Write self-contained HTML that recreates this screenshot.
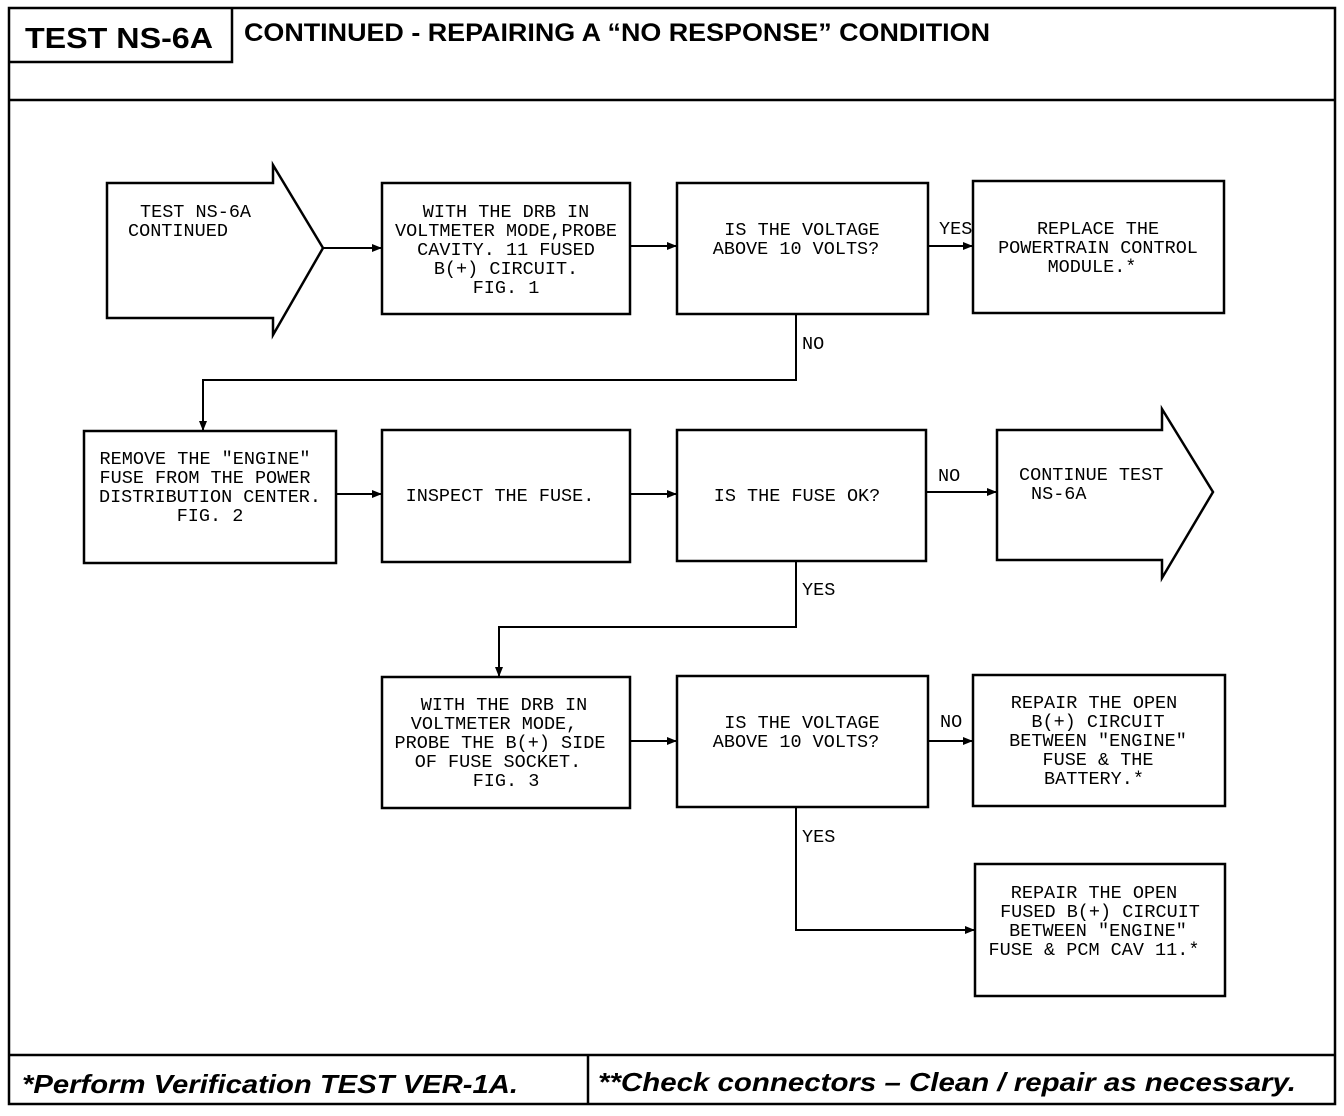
<!DOCTYPE html>
<html><head><meta charset="utf-8"><style>
html,body{margin:0;padding:0;background:#fff;}
svg{display:block;}
.t{font-family:"Liberation Mono",monospace;font-size:18.5px;fill:#000;}
.h{font-family:"Liberation Sans",sans-serif;font-weight:bold;fill:#000;}
</style></head><body>
<svg width="1344" height="1116" viewBox="0 0 1344 1116" xmlns="http://www.w3.org/2000/svg">
<defs><marker id="a" markerWidth="10" markerHeight="8" refX="9" refY="4" orient="auto" markerUnits="userSpaceOnUse"><path d="M0,0 L10,4 L0,8 z" fill="#000"/></marker></defs>
<g fill="none" stroke="#000" stroke-width="2.5">
<rect x="9" y="8" width="1326" height="1096"/>
<line x1="9" y1="100" x2="1335" y2="100"/>
<line x1="9" y1="1055" x2="1335" y2="1055"/>
<line x1="588" y1="1055" x2="588" y2="1104"/>
<polyline points="9,62 232,62 232,8"/>
<path d="M107,183 H273 V165 L323,248 L273,335 V318 H107 Z"/>
<rect x="382" y="183" width="248" height="131"/>
<rect x="677" y="183" width="251" height="131"/>
<rect x="973" y="181" width="251" height="132"/>
<rect x="84" y="431" width="252" height="132"/>
<rect x="382" y="430" width="248" height="132"/>
<rect x="677" y="430" width="249" height="131"/>
<path d="M997,430 H1162 V409 L1213,492 L1162,578 V560 H997 Z"/>
<rect x="382" y="677" width="248" height="131"/>
<rect x="677" y="676" width="251" height="131"/>
<rect x="973" y="675" width="252" height="131"/>
<rect x="975" y="864" width="250" height="132"/>
</g>
<g fill="none" stroke="#000" stroke-width="2">
<line x1="323" y1="248" x2="381" y2="248" marker-end="url(#a)"/>
<line x1="630" y1="246" x2="676" y2="246" marker-end="url(#a)"/>
<line x1="928" y1="246" x2="972" y2="246" marker-end="url(#a)"/>
<polyline points="796,314 796,380 203,380 203,430" marker-end="url(#a)"/>
<line x1="336" y1="494" x2="381" y2="494" marker-end="url(#a)"/>
<line x1="630" y1="494" x2="676" y2="494" marker-end="url(#a)"/>
<line x1="926" y1="492" x2="996" y2="492" marker-end="url(#a)"/>
<polyline points="796,561 796,627 499,627 499,676" marker-end="url(#a)"/>
<line x1="630" y1="741" x2="676" y2="741" marker-end="url(#a)"/>
<line x1="928" y1="741" x2="972" y2="741" marker-end="url(#a)"/>
<polyline points="796,807 796,930 974,930" marker-end="url(#a)"/>
</g>
<text class="h" x="25" y="48" font-size="29" textLength="188" lengthAdjust="spacingAndGlyphs">TEST NS-6A</text>
<text class="h" x="244" y="41" font-size="25" textLength="746" lengthAdjust="spacingAndGlyphs">CONTINUED -  REPAIRING A “NO RESPONSE” CONDITION</text>
<text class="h" x="22" y="1093" font-size="26" font-style="italic" textLength="496" lengthAdjust="spacingAndGlyphs">*Perform Verification TEST VER-1A.</text>
<text class="h" x="598" y="1091" font-size="26" font-style="italic" textLength="698" lengthAdjust="spacingAndGlyphs">**Check connectors – Clean / repair as necessary.</text>
<g class="t">
<text x="140" y="217">TEST NS-6A</text>
<text x="128" y="236">CONTINUED</text>
</g>
<g class="t" text-anchor="middle">
<text x="506" y="217">WITH THE DRB IN</text>
<text x="506" y="236">VOLTMETER MODE,PROBE</text>
<text x="506" y="255">CAVITY. 11 FUSED</text>
<text x="506" y="274">B(+) CIRCUIT.</text>
<text x="506" y="293">FIG. 1</text>
<text x="802" y="235">IS THE VOLTAGE</text>
<text x="796" y="254">ABOVE 10 VOLTS?</text>
<text x="1098" y="234">REPLACE THE</text>
<text x="1098" y="253">POWERTRAIN CONTROL</text>
<text x="1092" y="272">MODULE.*</text>
<text x="205" y="464">REMOVE THE "ENGINE"</text>
<text x="205" y="483">FUSE FROM THE POWER</text>
<text x="210" y="502">DISTRIBUTION CENTER.</text>
<text x="210" y="521">FIG. 2</text>
<text x="500" y="501">INSPECT THE FUSE.</text>
<text x="797" y="501">IS THE FUSE OK?</text>
<text x="504" y="710">WITH THE DRB IN</text>
<text x="494" y="729">VOLTMETER MODE,</text>
<text x="500" y="748">PROBE THE B(+) SIDE</text>
<text x="498" y="767">OF FUSE SOCKET.</text>
<text x="506" y="786">FIG. 3</text>
<text x="802" y="728">IS THE VOLTAGE</text>
<text x="796" y="747">ABOVE 10 VOLTS?</text>
<text x="1094" y="708">REPAIR THE OPEN</text>
<text x="1098" y="727">B(+) CIRCUIT</text>
<text x="1098" y="746">BETWEEN "ENGINE"</text>
<text x="1098" y="765">FUSE &amp; THE</text>
<text x="1094" y="784">BATTERY.*</text>
<text x="1094" y="898">REPAIR THE OPEN</text>
<text x="1100" y="917">FUSED B(+) CIRCUIT</text>
<text x="1098" y="936">BETWEEN "ENGINE"</text>
<text x="1094" y="955">FUSE &amp; PCM CAV 11.*</text>
</g>
<g class="t">
<text x="1019" y="480">CONTINUE TEST</text>
<text x="1031" y="499">NS-6A</text>
<text x="939" y="234">YES</text>
<text x="802" y="349">NO</text>
<text x="938" y="481">NO</text>
<text x="802" y="595">YES</text>
<text x="940" y="727">NO</text>
<text x="802" y="842">YES</text>
</g>
</svg>
</body></html>
